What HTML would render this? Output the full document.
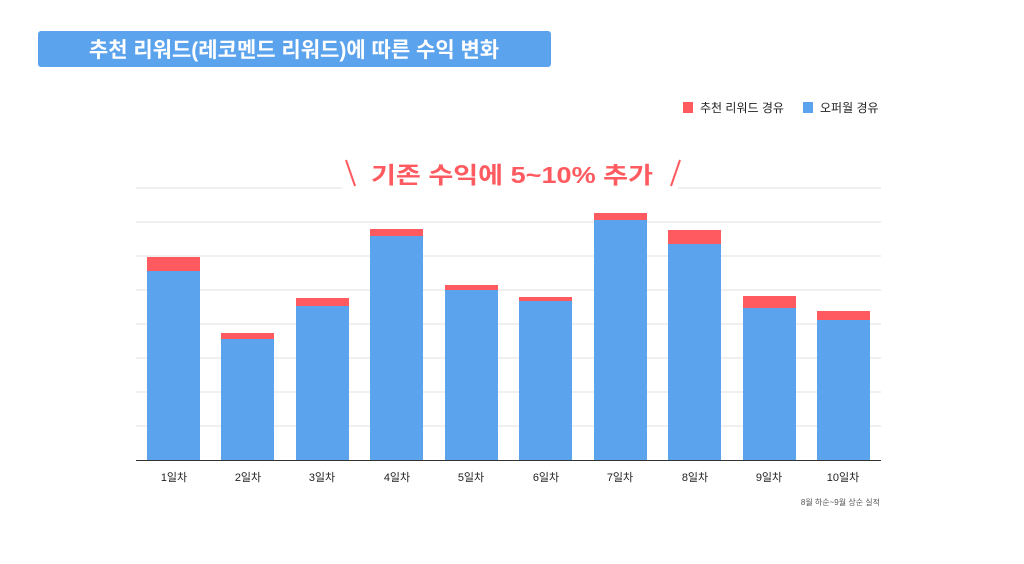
<!DOCTYPE html>
<html><head><meta charset="utf-8"><style>
body{margin:0;background:#fff;width:1024px;height:559px;overflow:hidden;font-family:"Liberation Sans","Noto Sans CJK KR",sans-serif}
</style></head><body>
<svg width="1024" height="559" xmlns="http://www.w3.org/2000/svg" style="font-family:'Liberation Sans','Noto Sans CJK KR',sans-serif">
<rect x="38" y="31" width="513" height="36" rx="3" fill="#5ca3ee"/>
<text x="294" y="57" text-anchor="middle" font-size="21" font-weight="bold" fill="#fff">추천 리워드(레코멘드 리워드)에 따른 수익 변화</text>
<rect x="683" y="102" width="10" height="11" fill="#ff5a5f"/>
<text x="700" y="112" font-size="12" fill="#222">추천 리워드 경유</text>
<rect x="803" y="102" width="10" height="11" fill="#5ca3ee"/>
<text x="820" y="112" font-size="12" fill="#222">오퍼월 경유</text>
<g stroke="#e2e2e2" stroke-width="1">
<line x1="136" y1="188" x2="342" y2="188"/><line x1="678" y1="188" x2="881" y2="188"/>
<line x1="136" y1="222" x2="881" y2="222"/><line x1="136" y1="256" x2="881" y2="256"/>
<line x1="136" y1="290" x2="881" y2="290"/><line x1="136" y1="324" x2="881" y2="324"/>
<line x1="136" y1="358" x2="881" y2="358"/><line x1="136" y1="392" x2="881" y2="392"/>
<line x1="136" y1="426" x2="881" y2="426"/>
</g>
<line x1="346" y1="160" x2="355" y2="186" stroke="#ff5a5f" stroke-width="2"/>
<line x1="680" y1="160" x2="671" y2="186" stroke="#ff5a5f" stroke-width="2"/>
<text x="512" y="183" text-anchor="middle" font-size="23" font-weight="bold" fill="#ff5a5f" textLength="282" lengthAdjust="spacingAndGlyphs">기존 수익에 5~10% 추가</text>
<g>
<rect x="147" y="257" width="53" height="14" fill="#ff5a5f"/><rect x="147" y="271" width="53" height="189" fill="#5ca3ee"/>
<rect x="221" y="333" width="53" height="6" fill="#ff5a5f"/><rect x="221" y="339" width="53" height="121" fill="#5ca3ee"/>
<rect x="296" y="298" width="53" height="8" fill="#ff5a5f"/><rect x="296" y="306" width="53" height="154" fill="#5ca3ee"/>
<rect x="370" y="229" width="53" height="7" fill="#ff5a5f"/><rect x="370" y="236" width="53" height="224" fill="#5ca3ee"/>
<rect x="445" y="285" width="53" height="5" fill="#ff5a5f"/><rect x="445" y="290" width="53" height="170" fill="#5ca3ee"/>
<rect x="519" y="297" width="53" height="4" fill="#ff5a5f"/><rect x="519" y="301" width="53" height="159" fill="#5ca3ee"/>
<rect x="594" y="213" width="53" height="7" fill="#ff5a5f"/><rect x="594" y="220" width="53" height="240" fill="#5ca3ee"/>
<rect x="668" y="230" width="53" height="14" fill="#ff5a5f"/><rect x="668" y="244" width="53" height="216" fill="#5ca3ee"/>
<rect x="743" y="296" width="53" height="12" fill="#ff5a5f"/><rect x="743" y="308" width="53" height="152" fill="#5ca3ee"/>
<rect x="817" y="311" width="53" height="9" fill="#ff5a5f"/><rect x="817" y="320" width="53" height="140" fill="#5ca3ee"/>
</g>
<line x1="136" y1="460.5" x2="881" y2="460.5" stroke="#333" stroke-width="1"/>
<g font-size="11" fill="#222" text-anchor="middle">
<text x="174" y="481">1일차</text><text x="248" y="481">2일차</text><text x="322" y="481">3일차</text><text x="397" y="481">4일차</text><text x="471" y="481">5일차</text><text x="546" y="481">6일차</text><text x="620" y="481">7일차</text><text x="695" y="481">8일차</text><text x="769" y="481">9일차</text><text x="843" y="481">10일차</text>
</g>
<text x="880" y="505" text-anchor="end" font-size="8" fill="#555">8월 하순~9월 상순 실적</text>
</svg>
</body></html>
